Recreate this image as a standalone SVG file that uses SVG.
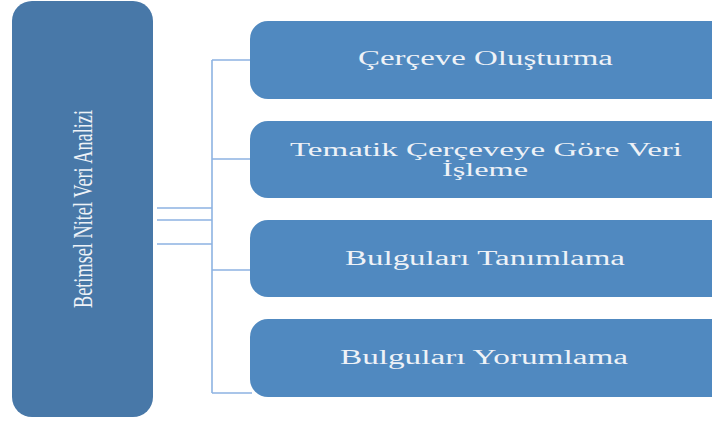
<svg xmlns="http://www.w3.org/2000/svg" width="712" height="424" viewBox="0 0 712 424">
<style>
.main{fill:#4878a8}
.box{fill:#5089c0}
.t{font-family:"Liberation Serif","Times New Roman",serif;fill:#eef2f7;font-size:20px}
.c{stroke:#8db3e2;stroke-width:1.6;fill:none}
</style>
<rect width="712" height="424" fill="#ffffff"/>
<g id="connectors">
<path class="c" d="M212 60 V393"/>
<path class="c" d="M212 60 H250 M212 159 H250 M212 270 H250 M212 393 H252"/>
<path class="c" d="M157 208 H212 M157 220 H212 M157 244 H212"/>
</g>
<g id="n0">
<rect class="main" x="12" y="1" width="141" height="416" rx="20"/>
<text class="t" transform="translate(92 209) rotate(-90)" text-anchor="middle" style="font-size:28px" textLength="198" lengthAdjust="spacingAndGlyphs">Betimsel Nitel Veri Analizi</text>
</g>
<g id="n1">
<rect class="box" x="250" y="21" width="480" height="78" rx="18"/>
<text class="t" x="358" y="65" textLength="255" lengthAdjust="spacingAndGlyphs">Çerçeve Oluşturma</text>
</g>
<g id="n2">
<rect class="box" x="250" y="121" width="480" height="77" rx="18"/>
<text class="t" x="290" y="156" style="font-size:19px" textLength="392" lengthAdjust="spacingAndGlyphs">Tematik Çerçeveye Göre Veri</text>
<text class="t" x="442" y="176" style="font-size:19px" textLength="86" lengthAdjust="spacingAndGlyphs">İşleme</text>
</g>
<g id="n3">
<rect class="box" x="250" y="220" width="480" height="77" rx="18"/>
<text class="t" x="345" y="265" textLength="280" lengthAdjust="spacingAndGlyphs">Bulguları Tanımlama</text>
</g>
<g id="n4">
<rect class="box" x="250" y="319" width="480" height="78" rx="18"/>
<text class="t" x="340" y="364" textLength="288" lengthAdjust="spacingAndGlyphs">Bulguları Yorumlama</text>
</g>
</svg>
